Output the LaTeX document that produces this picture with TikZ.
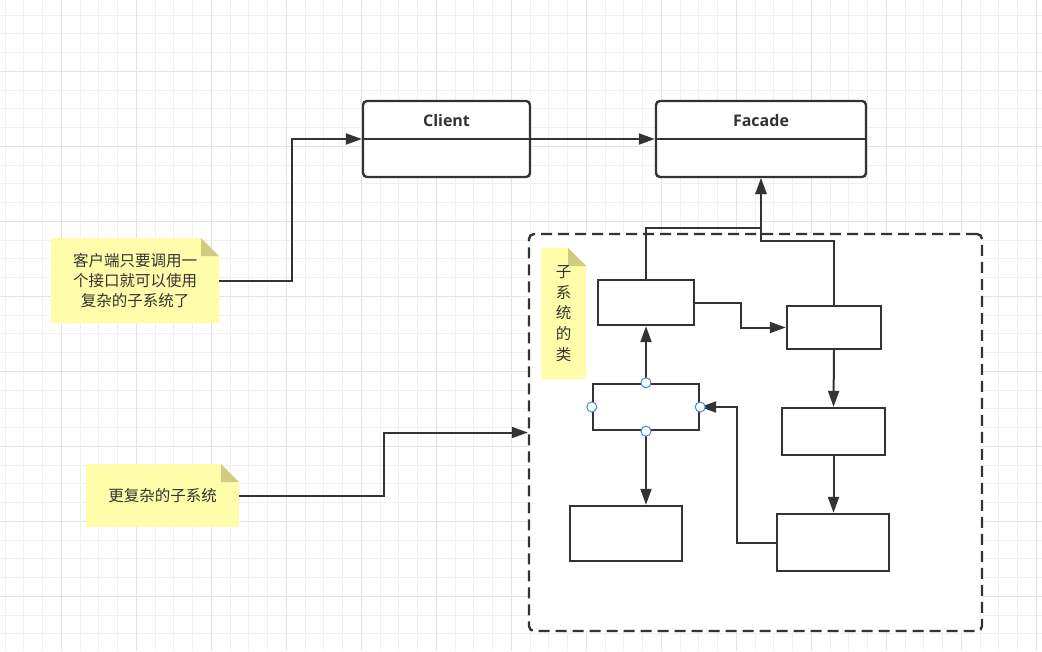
\documentclass[tikz,border=0pt]{standalone}
\usepackage{fontspec}
\newfontfamily\cjk{Noto Sans CJK SC}
\newfontfamily\lat{Open Sans}
\usetikzlibrary{calc}
\usetikzlibrary{arrows.meta}
\definecolor{ink}{HTML}{333333}
\definecolor{noteyellow}{HTML}{FFFCAA}
\definecolor{notefold}{HTML}{CFCB80}
\definecolor{handleblue}{HTML}{3A8EE6}

\begin{document}
\begin{tikzpicture}[x=1pt, y=-1pt,
		gridline/.style={draw=black!6, line width=0.8pt},
		gridmajor/.style={draw=black!11, line width=0.8pt},
		cls/.style={draw=ink, line width=2.4pt, fill=white, rounded corners=4pt, inner sep=0pt},
		box/.style={draw=ink, line width=2.4pt, fill=white, inner sep=0pt},
		group/.style={draw=ink, line width=2.4pt, fill=white, rounded corners=5pt, dash pattern=on 11pt off 6pt, inner sep=0pt},
		note/.style={inner sep=0pt, align=center, text=ink, font=\cjk\fontsize{15.5}{20}\selectfont,
			path picture={
				\fill[noteyellow] (path picture bounding box.south west) -- (path picture bounding box.north west)
					-- ([xshift=-18pt]path picture bounding box.north east) -- ([yshift=-18pt]path picture bounding box.north east)
					-- (path picture bounding box.south east) -- cycle;
				\fill[notefold] ([xshift=-18pt]path picture bounding box.north east) -- ([xshift=-18pt,yshift=-18pt]path picture bounding box.north east)
					-- ([yshift=-18pt]path picture bounding box.north east) -- cycle;
			}},
		conn/.style={draw=ink, line width=2pt, -{Triangle[length=16pt,width=11pt]}},
		handle/.style={circle, draw=handleblue, fill=white, line width=1pt, minimum size=10pt, inner sep=0pt}]
		\useasboundingbox (0,0) rectangle (1042,651);

		\foreach \i in {0,...,55} \draw[gridline] (5+18.75*\i,0) -- ++(0,651);
		\foreach \i in {0,...,34} \draw[gridline] (0,15+18.75*\i) -- ++(1042,0);
		\foreach \i in {0,...,13} \draw[gridmajor] (61.25+75*\i,0) -- ++(0,651);
		\foreach \i in {0,...,7} \draw[gridmajor] (0,71.25+75*\i) -- ++(1042,0);

		\node[cls, minimum width=167pt, minimum height=76pt] (client) at (446.5,139) {};
		\draw[ink, line width=2.4pt] (client.west) -- (client.east);
		\node[text=ink, font=\lat\bfseries\fontsize{16}{18}\selectfont] (clientname) at ($(client.north)!0.53!(client.center)$) {Client};

		\node[cls, minimum width=210pt, minimum height=76pt] (facade) at (761,139) {};
		\draw[ink, line width=2.4pt] (facade.west) -- (facade.east);
		\node[text=ink, font=\lat\bfseries\fontsize{16}{18}\selectfont] (facadename) at ($(facade.north)!0.53!(facade.center)$) {Facade};

		\node[note, minimum width=168pt, minimum height=85pt] (note1) at (135,280.5) {客户端只要调用一\\个接口就可以使用\\复杂的子系统了};
		\node[note, minimum width=153pt, minimum height=63pt] (note2) at (162.5,495.5) {更复杂的子系统};

		\node[group, minimum width=453pt, minimum height=397pt] (subsys) at (755.5,432.5) {};
		\node[note, minimum width=45pt, minimum height=131pt, font=\cjk\fontsize{15.5}{20.7}\selectfont] (note3) at (563.5,313.5) {子\\系\\统\\的\\类};

		\node[box, minimum width=96pt, minimum height=45pt] (a) at (646,302.5) {};
		\node[box, minimum width=94pt, minimum height=43pt] (b) at (834,327.5) {};
		\node[box, minimum width=106pt, minimum height=46pt] (c) at (646,407) {};
		\node[box, minimum width=103pt, minimum height=47pt] (d) at (833.5,431.5) {};
		\node[box, minimum width=112pt, minimum height=55pt] (e) at (626,533.5) {};
		\node[box, minimum width=112pt, minimum height=57pt] (f) at (833,542.5) {};

		\draw[conn] (client.east) -- (facade.west);
		\draw[conn] (note1.east) -- ++(73,0) |- (client.west);
		\draw[conn] (note2.east) -- ++(145,0) |- (subsys.west);
		\draw[conn] (a.north) -- ++(0,-51) -| (facade.south);
		\draw[conn] (b.north) -- ++(0,-64) -| (facade.south);
		\draw[conn] (a.east) -- ++(46,0) |- (b.west);
		\draw[conn] (c.north) -- (a.south);
		\draw[conn] (c.south) -- (c.south |- e.north);
		\draw[conn] (b.south) -- (d.north);
		\draw[conn] (d.south) -- (d.south |- f.north);
		\draw[conn] (f.west) -- ++(-39,0) |- (c.east);

		\foreach \a in {north,south,east,west} \node[handle] (h-\a) at (c.\a) {};
	\end{tikzpicture}
\end{document}
